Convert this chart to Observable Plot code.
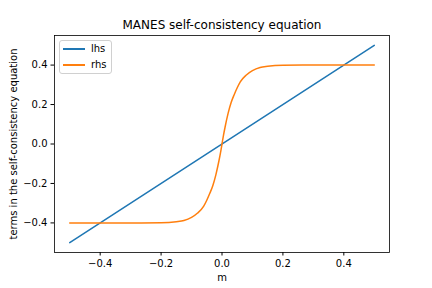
<!DOCTYPE html>
<html><head><meta charset="utf-8">
<script src="https://cdn.jsdelivr.net/npm/d3@7"></script>
<script src="https://cdn.jsdelivr.net/npm/@observablehq/plot@0.6"></script>
<style>
body{margin:0;background:#fff;font-family:"DejaVu Sans",sans-serif;}
#wrap{position:relative;width:432px;height:288px;}
#legend{position:absolute;left:59px;top:40px;width:51px;height:32px;border:1px solid #d0d0d0;border-radius:3px;background:rgba(255,255,255,0.8);font-size:10px;color:#000;}
.row{position:absolute;left:0;height:14px;}
.sw{position:absolute;left:3px;width:22px;height:2px;}
.lb{position:absolute;left:31px;line-height:14px;white-space:nowrap;}
</style>
</head><body>
<div id="wrap"><div id="legend"></div></div>
<script>
const title = "MANES self-consistency equation";
const xLabel = "m";
const yLabel = "terms in the self-consistency equation";
const seriesNames = ["lhs", "rhs"];
const seriesColors = ["#1f77b4", "#ff7f0e"];
const xTicks = [-0.4, -0.2, 0.0, 0.2, 0.4];
const yTicks = [-0.4, -0.2, 0.0, 0.2, 0.4];

const lhsM = [-0.5, 0.5];
const lhsV = [-0.5, 0.5];

const rhsM = [-0.5, -0.3, -0.2, -0.15, -0.125, -0.1, -0.08, -0.06, -0.05, -0.04, -0.03, -0.02, -0.01, -0.005, 0,
              0.005, 0.01, 0.02, 0.03, 0.04, 0.05, 0.06, 0.08, 0.1, 0.125, 0.15, 0.2, 0.3, 0.5];
const rhsV = [-0.4, -0.4, -0.399, -0.394, -0.388, -0.372, -0.35, -0.315, -0.285, -0.25, -0.21, -0.155, -0.085, -0.045, 0,
              0.045, 0.085, 0.155, 0.21, 0.25, 0.285, 0.315, 0.35, 0.372, 0.388, 0.394, 0.399, 0.4, 0.4];

const rows = [];
lhsM.forEach((m, i) => rows.push({series: "lhs", m, v: lhsV[i]}));
rhsM.forEach((m, i) => rows.push({series: "rhs", m, v: rhsV[i]}));

const fmt = d3.format(".1f");

const chart = Plot.plot({
  width: 432, height: 288,
  marginLeft: 54, marginRight: 43, marginTop: 35, marginBottom: 36,
  style: {fontFamily: "DejaVu Sans", fontSize: "10px", color: "black", background: "white"},
  x: {domain: [-0.55, 0.55]},
  y: {domain: [-0.55, 0.55]},
  color: {domain: seriesNames, range: seriesColors},
  marks: [
    Plot.line(rows.filter(d => d.series === "lhs"), {x: "m", y: "v", stroke: "series", strokeWidth: 1.5}),
    Plot.line(rows.filter(d => d.series === "rhs"), {x: "m", y: "v", stroke: "series", strokeWidth: 1.5, curve: "monotone-x"}),
    Plot.frame({stroke: "black", strokeWidth: 0.8}),
    Plot.axisX({ticks: xTicks, tickFormat: fmt, tickSize: 3.5, tickPadding: 3.5, label: null, fontSize: 10}),
    Plot.axisY({ticks: yTicks, tickFormat: fmt, tickSize: 3.5, tickPadding: 3.5, label: null, fontSize: 10}),
    Plot.text([xLabel], {text: d => d, frameAnchor: "bottom", dy: 25, lineAnchor: "middle", textAnchor: "middle", fontSize: 10}),
    Plot.text([yLabel], {text: d => d, frameAnchor: "left", dx: -41, rotate: -90, lineAnchor: "middle", textAnchor: "middle", fontSize: 10}),
    Plot.text([title], {text: d => d, frameAnchor: "top", dy: -10.5, lineAnchor: "middle", textAnchor: "middle", fontSize: 12})
  ]
});
const wrap = document.getElementById("wrap");
wrap.insertBefore(chart, wrap.firstChild);

const legend = document.getElementById("legend");
seriesNames.forEach((name, i) => {
  const row = document.createElement("div");
  row.className = "row";
  row.style.top = (1 + i * 16) + "px";
  row.innerHTML = `<div class="sw" style="top:6px;background:${seriesColors[i]}"></div><div class="lb">${name}</div>`;
  legend.appendChild(row);
});
</script>
</body></html>
